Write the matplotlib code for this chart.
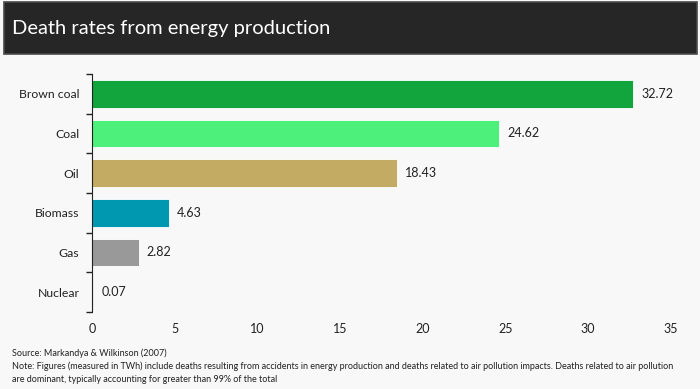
import matplotlib.pyplot as plt
from matplotlib.patches import Rectangle

plt.rcParams["font.family"] = ["Lato", "DejaVu Sans"]

sources = ["Brown coal", "Coal", "Oil", "Biomass", "Gas", "Nuclear"]
death_rates = [32.72, 24.62, 18.43, 4.63, 2.82, 0.07]
bar_colors = ["#12a53d", "#4df07b", "#c4ab63", "#0098b0", "#999999", "#555555"]
x_ticks = [0, 5, 10, 15, 20, 25, 30, 35]

title = "Death rates from energy production"
source_note = "Source: Markandya & Wilkinson (2007)"
note = ("Note: Figures (measured in TWh) include deaths resulting from accidents in energy production "
        "and deaths related to air pollution impacts. Deaths related to air pollution\n"
        "are dominant, typically accounting for greater than 99% of the total")

bg = "#f8f8f8"
fig = plt.figure(figsize=(7.0, 3.89), dpi=100, facecolor=bg)

# dark title bar
fig.patches.append(Rectangle((0.006, 0.862), 0.99, 0.134, transform=fig.transFigure,
                             facecolor="#262626", edgecolor="#4a4a4a", lw=1.2))
fig.text(0.017, 0.928, title, color="white", fontsize=14.5, va="center", ha="left")

ax = fig.add_axes([0.1314, 0.198, 0.834, 0.612], facecolor=bg)

y = list(range(len(sources)))
ax.barh(y, death_rates, height=0.7, color=bar_colors, edgecolor="#ffffff", linewidth=0.6)
for yi, v in zip(y, death_rates):
    ax.text(v + 0.5, yi, f"{v:.2f}", va="center", ha="left", fontsize=9, color="#222222")

ax.set_xlim(0, 35.3)
ax.set_ylim(len(sources) - 0.5, -0.5)
ax.set_xticks(x_ticks)
ax.tick_params(axis="x", length=0, labelsize=9, pad=8, labelcolor="#222222")

# boundaries get tick marks, categories get labels
ax.set_yticks([i - 0.5 for i in range(len(sources) + 1)])
ax.set_yticklabels([])
ax.set_yticks(y, minor=True)
ax.set_yticklabels(sources, minor=True)
ax.tick_params(axis="y", which="major", length=4, width=1, color="#222222")
ax.tick_params(axis="y", which="minor", length=0, labelsize=8.8, pad=9, labelcolor="#222222")

for s in ["top", "right", "bottom"]:
    ax.spines[s].set_visible(False)
ax.spines["left"].set_color("#222222")

fig.text(0.017, 0.092, source_note, fontsize=6.5, color="#222222", va="center")
fig.text(0.017, 0.042, note, fontsize=6.5, color="#222222", va="center", linespacing=1.45)

fig.savefig("out.png", dpi=100, facecolor=bg)
